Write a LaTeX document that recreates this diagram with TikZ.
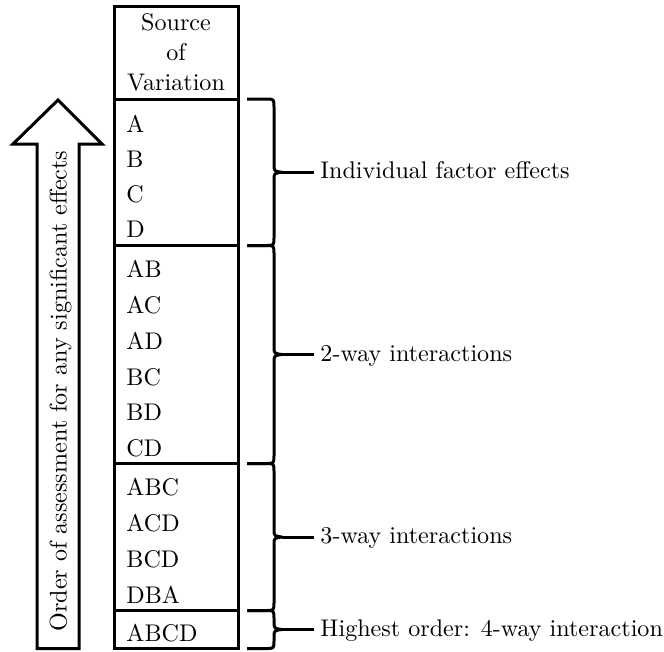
\documentclass[tikz,border=0pt]{standalone}
\begin{document}
\begin{tikzpicture}[x=1pt,y=-1pt,
  txt/.style={font=\fontsize{10}{12}\selectfont, inner sep=0pt, scale=2.41, transform shape},
  rowtxt/.style={txt, anchor=base west},
  headtxt/.style={txt, anchor=base},
  heavy/.style={line width=3pt, line join=miter},
  bracestroke/.style={line width=3pt, line cap=butt, line join=round}]
\useasboundingbox (0,0) rectangle (664,651);

% table frame and group separators
\coordinate (tl) at (114.5,6);
\coordinate (br) at (238,648.5);
\draw[heavy] (tl) rectangle (br);
\foreach \y [count=\i] in {99,245.5,463.5,610.5} {
  \coordinate (sl\i) at (114.5,\y);
  \coordinate (sr\i) at (238,\y);
  \draw[heavy] (sl\i) -- (sr\i);
}

% header
\node[headtxt] (h1) at (176,30) {Source};
\node[headtxt] (h2) at (176,60) {of};
\node[headtxt] (h3) at (176,90) {Variation};

% effect rows
\foreach \t/\y in {A/132,B/167,C/202,D/237,
                   AB/277,AC/313,AD/349,BC/385,BD/420,CD/456,
                   ABC/495,ACD/531,BCD/567,DBA/603,ABCD/641.5}
  \node[rowtxt] (r-\t) at (126,\y) {\t};

% up arrow with rotated caption
\draw[heavy] (37,648.5) -- (37,144) -- (13,144) -- (58,100) -- (102,144)
  -- (79,144) -- (79,648.5) -- cycle;
\node[txt, rotate=90, anchor=base] (order) at (66.5,391)
  {Order of assessment for any significant effects};

% right braces with labels
\newcommand{\groupbrace}[4]{%
  \pgfmathsetmacro{\ym}{(#1+#2)/2}
  \draw[bracestroke] (247,#1) -- (266,#1) .. controls (274,#1) .. (274,#1+8)
    -- (274,\ym-8) .. controls (274,\ym-1) .. (282,\ym)
    .. controls (274,\ym+1) .. (274,\ym+8)
    -- (274,#2-8) .. controls (274,#2) .. (266,#2) -- (247,#2);
  \coordinate (#3-tip) at (282,\ym);
  \coordinate (#3-end) at (314,\ym);
  \draw[bracestroke] (#3-tip) -- (#3-end);
  \node[rowtxt] (#3) at (320,\ym+6.5) {#4};
}
\groupbrace{99}{245.5}{g1}{Individual factor effects}
\groupbrace{245.5}{463.5}{g2}{2-way interactions}
\groupbrace{463.5}{610.5}{g3}{3-way interactions}
\groupbrace{610.5}{648.5}{g4}{Highest order: 4-way interaction}
\end{tikzpicture}
\end{document}
